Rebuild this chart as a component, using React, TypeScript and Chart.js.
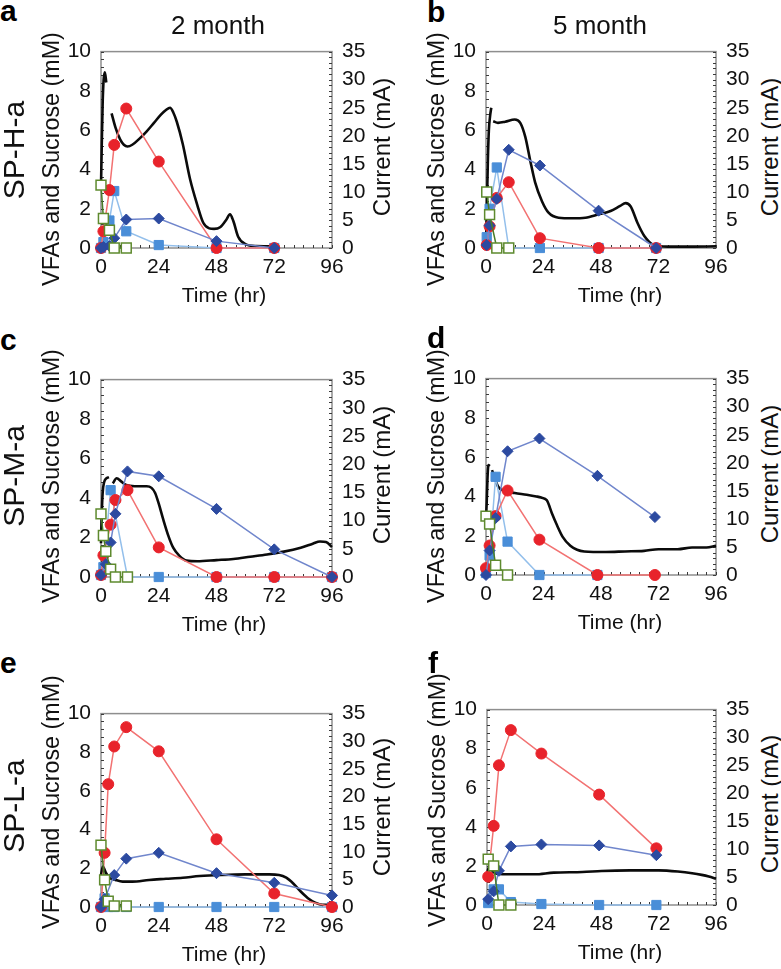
import React, { useEffect, useRef } from "react";
import { Chart, registerables } from "chart.js";

Chart.register(...registerables);

// ---------------- Axis ticks ----------------
const TIME_TICKS = [0, 24, 48, 72, 96];
const VFA_TICKS = [0, 2, 4, 6, 8, 10];
const CURRENT_TICKS = [0, 5, 10, 15, 20, 25, 30, 35];
const TIME_MINOR = 4;
const VFA_MINOR = 0.4;
const CURRENT_MINOR = 1;

// ---------------- Panel a (SP-H-a, 2 month) ----------------
const A_T = [0, 1, 3.5, 5.5, 10.5, 24, 48, 72];
const A_RED = [0, 0.85, 2.95, 5.25, 7.1, 4.4, 0, 0];
const A_DB = [0, 0.05, 0.1, 0.5, 1.45, 1.5, 0.35, 0];
const A_LB = [0, 0.3, 1.4, 2.9, 0.85, 0.15, 0, 0];
const A_SUC = [3.2, 1.5, 0.9, 0, 0, null, null, null];
const A_CT = [0, 0.3, 0.7, 1.1, 1.6, 2.2, 3, 4.4, 6, 8, 9.5, 11, 13, 16, 19, 22, 25, 27, 28.7, 30, 31.5, 34, 37, 40, 42.5, 45, 47, 49.5, 52, 53.6, 55, 57, 60, 64.5, 74];
const A_CUR = [11, 18, 26, 30, 31.3, 29.5, null, 24, 21.5, 19.3, 18.4, 18.1, 18.4, 19.5, 20.8, 22.3, 23.8, 24.6, 25, 24.2, 22.5, 18.5, 12.3, 7.7, 4.5, 3.5, 3.4, 3.7, 5.0, 6.0, 4.8, 2.0, 0.7, 0.35, 0.3];

// ---------------- Panel b (SP-H-a, 5 month) ----------------
const B_T = [0.3, 1.5, 4.5, 9.5, 22.5, 47, 71];
const B_RED = [0.15, 1.1, 2.55, 3.35, 0.5, 0, 0];
const B_DB = [0.15, 1.15, 2.5, 5.0, 4.2, 1.9, 0];
const B_LB = [0.55, 2.0, 4.1, 0, 0, 0, 0];
const B_SUC = [2.85, 1.7, 0, 0, null, null, null];
const B_CT = [0, 0.4, 0.8, 1.2, 1.7, 2.2, 2.6, 3, 5, 8, 12, 14.3, 16.4, 18.4, 20.5, 23.4, 26.1, 30.3, 36, 41.5, 47, 52, 56, 58.3, 60.4, 63.2, 66, 70.2, 75.8, 85, 96];
const B_CUR = [0.5, 8, 16, 21, 23.5, 25, null, 22.6, 22.3, 22.5, 22.9, 22.3, 19.8, 15.7, 11.7, 8.3, 6.3, 5.4, 5.3, 5.4, 6.0, 6.6, 7.5, 8.0, 7.4, 4.5, 2.2, 0.5, 0.25, 0.25, 0.3];

// ---------------- Panel c (SP-M-a, 2 month) ----------------
const C_T = [0, 1, 2, 4, 6, 11, 24, 48, 72, 96];
const C_RED = [0.1, 1.1, null, 2.65, 3.9, 4.4, 1.5, 0, 0, 0];
const C_DB = [0.1, null, 0.65, 1.75, 3.2, 5.35, 5.1, 3.45, 1.4, 0];
const C_LB = [0.1, 0.5, null, 4.4, null, 0, 0, 0, 0, 0];
const C_SUC = [3.2, 2.1, 1.3, 0.4, 0, 0, null, null, null, null];
const C_CT = [0, 0.3, 0.7, 1.3, 2.2, 3.3, 4.2, 4.9, 6.5, 8.5, 10.5, 14, 19, 21, 22.5, 24, 25.8, 28, 30, 32.5, 35.6, 40, 48, 55, 62, 69, 76, 83, 88, 91, 93.5, 96];
const C_CUR = [6, 11, 15, 16.8, 17.5, 17.7, null, 16.6, 17.5, 16.9, 16.3, 16.1, 16.1, 15.8, 14.9, 13, 10.3, 7.3, 5.2, 3.8, 2.9, 2.8, 3.0, 3.2, 3.6, 4.0, 4.5, 5.2, 5.9, 6.3, 6.2, 5.3];

// ---------------- Panel d (SP-M-a, 5 month) ----------------
const D_T = [0, 1.5, 4, 9, 22.3, 46.5, 70.5];
const D_RED = [0.35, 1.5, 3.0, 4.3, 1.8, 0, 0];
const D_DB = [0, 1.25, 2.9, 6.3, 6.95, 5.05, 2.95];
const D_LB = [0.1, 1.0, 5.0, 1.7, 0, 0, null];
const D_SUC = [3.0, 2.6, 0.5, 0, null, null, null];
const D_CT = [0, 0.3, 0.6, 1, 1.6, 2.1, 2.5, 3.5, 5, 7.5, 12, 17, 21, 23, 25.4, 27.5, 29.6, 32, 35.2, 38, 41, 50, 58, 66, 72, 80, 86, 92, 96];
const D_CUR = [10, 13, 17, 19.6, 19.4, null, 18.7, 17.5, 15.8, 15.0, 14.6, 14.3, 14.0, 13.8, 13.3, 11, 8.9, 6.8, 5.2, 4.5, 4.2, 4.1, 4.2, 4.3, 4.6, 4.6, 4.9, 4.9, 5.2];

// ---------------- Panel e (SP-L-a, 2 month) ----------------
const E_T = [0, 1.5, 3, 5.5, 10.5, 24, 48, 72, 96];
const E_RED = [0, 2.8, 6.35, 8.3, 9.3, 8.05, 3.5, 0.7, 0];
const E_DB = [0, 0.4, null, 1.65, 2.5, 2.8, 1.75, 1.25, 0.6];
const E_LB = [0, 0.45, 0, 0, 0, 0, 0, 0, 0];
const E_SUC = [3.2, 1.4, 0.3, 0.05, 0.05, null, null, null, null];
const E_CT = [0, 0.8, 2, 3.5, 6, 9, 13, 20, 27, 34, 41, 50, 60, 70, 74, 77, 80, 83, 86, 89, 92, 94.5, 96];
const E_CUR = [5.8, 7.3, 6.2, 5.3, 4.9, 4.6, 4.6, 4.9, 5.1, 5.3, 5.6, 5.8, 5.9, 5.9, 5.8, 5.3, 4.2, 2.8, 1.6, 0.8, 0.4, 0.4, 0.8];

// ---------------- Panel f (SP-L-a, 5 month) ----------------
const F_T = [0.5, 2.8, 5, 10, 22.8, 47, 71];
const F_RED = [1.45, 4.05, 7.15, 8.95, 7.75, 5.65, 2.9];
const F_DB = [0.3, 0.7, 1.75, 3.0, 3.1, 3.05, 2.55];
const F_LB = [0.1, 0.8, 0.8, 0.15, 0.05, 0, 0];
const F_SUC = [2.35, 2.0, 0, 0, null, null, null];
const F_CT = [0, 0.5, 1, 1.5, 2.5, 4, 10, 20, 28, 40, 48, 60, 72, 80, 86, 90, 93, 96];
const F_CUR = [5.5, 6.4, 6.8, 6.6, 6.0, 5.6, 5.5, 5.5, 5.8, 5.9, 6.1, 6.2, 6.2, 6.0, 5.7, 5.4, 5.1, 4.7];

// ---------------- Text ----------------
const COLUMN_TITLES = ["2 month", "5 month"];
const ROW_TITLES = ["SP-H-a", "SP-M-a", "SP-L-a"];
const LEFT_TITLE = "VFAs and Sucrose (mM)";
const RIGHT_TITLE = "Current (mA)";
const X_TITLE = "Time (hr)";

// ---------------- Styling ----------------
const FONT = '"Liberation Sans", Arial, Helvetica, sans-serif';
const RED_M = "#e8232b";
const RED_L = "#f27272";
const DB_M = "#2c4aa0";
const DB_L = "#7086cc";
const LB_M = "#4a8ed8";
const LB_L = "#93bfeb";
const GR_M = "#5e8a2e";
const GR_L = "#4a7d28";
const BLACK = "#0b0b0b";
const FRAME = "#8e8e8e";
const TICK = "#3a3a3a";

const LEFT_W = 80;
const RIGHT_W = 40;
const TOP_PAD = 16;
const BOTTOM_H = 48;

type PanelDef = {
  letter: string;
  L: number; R: number; T: number; B: number;
  t: number[]; red: (number | null)[]; db: (number | null)[]; lb: (number | null)[]; suc: (number | null)[];
  ct: number[]; cur: (number | null)[];
  letterX: number; letterBase: number; xTitleX: number; rTitleX: number; lTitleY: number;
};

const PANELS: PanelDef[] = [
  { letter: "a", L: 101, R: 332, T: 45, B: 248, t: A_T, red: A_RED, db: A_DB, lb: A_LB, suc: A_SUC, ct: A_CT, cur: A_CUR, letterX: 0, letterBase: 21, xTitleX: 224, rTitleX: 382, lTitleY: 159 },
  { letter: "b", L: 486, R: 716, T: 45, B: 248, t: B_T, red: B_RED, db: B_DB, lb: B_LB, suc: B_SUC, ct: B_CT, cur: B_CUR, letterX: 427, letterBase: 22, xTitleX: 620, rTitleX: 770, lTitleY: 159 },
  { letter: "c", L: 101, R: 332, T: 373, B: 577, t: C_T, red: C_RED, db: C_DB, lb: C_LB, suc: C_SUC, ct: C_CT, cur: C_CUR, letterX: 0, letterBase: 350, xTitleX: 224, rTitleX: 382, lTitleY: 476 },
  { letter: "d", L: 486, R: 716, T: 372, B: 575, t: D_T, red: D_RED, db: D_DB, lb: D_LB, suc: D_SUC, ct: D_CT, cur: D_CUR, letterX: 427, letterBase: 348, xTitleX: 620, rTitleX: 770, lTitleY: 476 },
  { letter: "e", L: 101, R: 332, T: 707, B: 907, t: E_T, red: E_RED, db: E_DB, lb: E_LB, suc: E_SUC, ct: E_CT, cur: E_CUR, letterX: 0, letterBase: 673, xTitleX: 224, rTitleX: 382, lTitleY: 802 },
  { letter: "f", L: 487, R: 716, T: 703, B: 905, t: F_T, red: F_RED, db: F_DB, lb: F_LB, suc: F_SUC, ct: F_CT, cur: F_CUR, letterX: 428, letterBase: 673, xTitleX: 620, rTitleX: 770, lTitleY: 800 },
];

const frameTicks = {
  id: "frameTicks",
  beforeDatasetsDraw(chart: any) {
    const { ctx, chartArea: a, scales } = chart;
    ctx.save();
    ctx.strokeStyle = FRAME;
    ctx.lineWidth = 1.5;
    ctx.strokeRect(a.left, a.top, a.right - a.left, a.bottom - a.top);
    ctx.strokeStyle = TICK;
    ctx.lineWidth = 1;
    ctx.beginPath();
    const nL = Math.round(VFA_TICKS[VFA_TICKS.length - 1] / VFA_MINOR);
    for (let i = 0; i <= nL; i++) {
      const y = Math.round(scales.y.getPixelForValue(i * VFA_MINOR)) + 0.5;
      ctx.moveTo(a.left, y);
      ctx.lineTo(a.left + 3, y);
    }
    const nR = Math.round(CURRENT_TICKS[CURRENT_TICKS.length - 1] / CURRENT_MINOR);
    for (let i = 0; i <= nR; i++) {
      const y = Math.round(scales.y2.getPixelForValue(i * CURRENT_MINOR)) + 0.5;
      ctx.moveTo(a.right, y);
      ctx.lineTo(a.right - 3, y);
    }
    const nX = Math.round(TIME_TICKS[TIME_TICKS.length - 1] / TIME_MINOR);
    for (let i = 0; i <= nX; i++) {
      const x = Math.round(scales.x.getPixelForValue(i * TIME_MINOR)) + 0.5;
      ctx.moveTo(x, a.bottom);
      ctx.lineTo(x, a.bottom - 3);
    }
    ctx.stroke();
    ctx.restore();
  },
};

function toPts(ts: number[], vs: (number | null)[]) {
  return ts.map((x, i) => ({ x, y: vs[i] })).filter((p) => p.y !== null);
}

function PanelChart({ p }: { p: PanelDef }) {
  const ref = useRef<HTMLCanvasElement>(null);
  const W = LEFT_W + (p.R - p.L) + RIGHT_W;
  const H = TOP_PAD + (p.B - p.T) + BOTTOM_H;
  useEffect(() => {
    if (!ref.current) return;
    const tickFont = { family: FONT, size: 21 };
    const marker = (label: string, data: any, line: string, style: string, radius: number, fill: string, border: string, bw: number) => ({
      label, data, yAxisID: "y", borderColor: line, borderWidth: 1.5, tension: 0,
      pointStyle: style, pointRadius: radius, pointBackgroundColor: fill, pointBorderColor: border,
      pointBorderWidth: bw, clip: false, spanGaps: true,
    });
    const chart = new Chart(ref.current, {
      type: "line",
      data: {
        datasets: [
          marker("Sucrose", toPts(p.t, p.suc), GR_L, "rect", 7, "#ffffff", GR_M, 1.5),
          marker("VFA (diamond)", toPts(p.t, p.db), DB_L, "rectRot", 5.5, DB_M, DB_M, 1),
          marker("Acetate", toPts(p.t, p.red), RED_L, "circle", 5.5, RED_M, RED_M, 1),
          marker("VFA (square)", toPts(p.t, p.lb), LB_L, "rect", 6.5, LB_M, LB_M, 1),
          {
            label: "Current", data: p.ct.map((x, i) => ({ x, y: p.cur[i] })), yAxisID: "y2",
            borderColor: BLACK, borderWidth: 2.6, pointRadius: 0, cubicInterpolationMode: "monotone",
            spanGaps: false, clip: false,
          },
        ] as any,
      },
      options: {
        animation: false,
        responsive: false,
        events: [],
        layout: { padding: { top: TOP_PAD, left: 0, right: 0, bottom: 0 } },
        plugins: { legend: { display: false }, tooltip: { enabled: false }, title: { display: false } },
        scales: {
          x: {
            type: "linear", min: 0, max: 96,
            afterBuildTicks: (s: any) => { s.ticks = TIME_TICKS.map((v) => ({ value: v })); },
            ticks: { font: tickFont, color: "#111", padding: 7, autoSkip: false, maxRotation: 0 },
            grid: { display: false, drawTicks: false },
            border: { display: false },
            afterFit: (s: any) => { s.height = BOTTOM_H; },
          },
          y: {
            type: "linear", position: "left", min: 0, max: 10,
            afterBuildTicks: (s: any) => { s.ticks = VFA_TICKS.map((v) => ({ value: v })); },
            ticks: { font: tickFont, color: "#111", padding: 10, autoSkip: false },
            grid: { display: false, drawTicks: false },
            border: { display: false },
            afterFit: (s: any) => { s.width = LEFT_W; },
          },
          y2: {
            type: "linear", position: "right", min: 0, max: 35,
            afterBuildTicks: (s: any) => { s.ticks = CURRENT_TICKS.map((v) => ({ value: v })); },
            ticks: { font: tickFont, color: "#111", padding: 10, autoSkip: false },
            grid: { display: false, drawTicks: false },
            border: { display: false },
            afterFit: (s: any) => { s.width = RIGHT_W; },
          },
        },
      } as any,
      plugins: [frameTicks],
    });
    return () => chart.destroy();
  }, [p]);
  return (
    <canvas
      ref={ref}
      width={W}
      height={H}
      style={{ position: "absolute", left: p.L - LEFT_W, top: p.T - TOP_PAD, width: W, height: H }}
    />
  );
}

const centered = (x: number, y: number, extra: any = {}) => ({
  position: "absolute" as const,
  left: x,
  top: y,
  transform: "translate(-50%, -50%)" + (extra.rot ? " rotate(-90deg)" : ""),
  whiteSpace: "nowrap" as const,
  lineHeight: 1,
  fontFamily: FONT,
  color: "#111",
  fontSize: extra.size || 21,
  fontWeight: extra.bold ? 700 : 400,
});

export default function App() {
  return (
    <div style={{ position: "absolute", left: 0, top: 0, width: 781, height: 969, background: "#fff", overflow: "hidden" }}>
      {PANELS.map((p) => (
        <PanelChart key={p.letter} p={p} />
      ))}
      {PANELS.map((p) => (
        <React.Fragment key={"t" + p.letter}>
          <div style={{ position: "absolute", left: p.letterX, top: p.letterBase - 25.4, fontFamily: FONT, fontWeight: 700, fontSize: 30, lineHeight: 1, color: "#000" }}>{p.letter}</div>
          <div style={centered(p.L - 49, p.lTitleY, { rot: true, size: 23.3 })}>{LEFT_TITLE}</div>
          <div style={centered(p.xTitleX, p.B + 46)}>{X_TITLE}</div>
          <div style={centered(p.rTitleX, (p.T + p.B) / 2, { rot: true, size: 24 })}>{RIGHT_TITLE}</div>
        </React.Fragment>
      ))}
      <div style={centered(218, 25, { size: 26 })}>{COLUMN_TITLES[0]}</div>
      <div style={centered(600, 25, { size: 26 })}>{COLUMN_TITLES[1]}</div>
      <div style={centered(14, 150, { rot: true, size: 30 })}>{ROW_TITLES[0]}</div>
      <div style={centered(14, 476, { rot: true, size: 30 })}>{ROW_TITLES[1]}</div>
      <div style={centered(14, 806, { rot: true, size: 30 })}>{ROW_TITLES[2]}</div>
    </div>
  );
}
